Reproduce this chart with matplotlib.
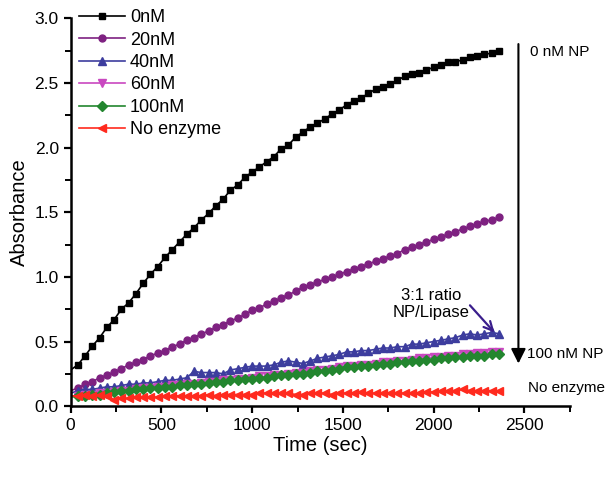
import matplotlib
matplotlib.use("Agg")
import matplotlib.pyplot as plt
from matplotlib.ticker import MultipleLocator

plt.rcParams['font.family'] = ['Liberation Sans', 'DejaVu Sans']

# time points (sec), one reading every 40 s
time_sec = list(range(0, 2400, 40))

abs_0nM = [0.28, 0.32, 0.39, 0.465, 0.53, 0.61, 0.67, 0.75, 0.80, 0.87,
           0.95, 1.02, 1.08, 1.15, 1.21, 1.27, 1.33, 1.38, 1.44, 1.49,
           1.55, 1.60, 1.67, 1.71, 1.77, 1.81, 1.85, 1.89, 1.93, 1.99,
           2.02, 2.08, 2.12, 2.16, 2.19, 2.22, 2.26, 2.29, 2.33, 2.36,
           2.38, 2.42, 2.45, 2.47, 2.49, 2.52, 2.55, 2.57, 2.58, 2.60,
           2.62, 2.64, 2.66, 2.66, 2.68, 2.70, 2.71, 2.72, 2.73, 2.75]

abs_20nM = [0.12, 0.14, 0.17, 0.19, 0.22, 0.24, 0.265, 0.29, 0.32, 0.34,
            0.36, 0.39, 0.41, 0.43, 0.46, 0.48, 0.51, 0.53, 0.56, 0.58,
            0.61, 0.63, 0.66, 0.68, 0.71, 0.74, 0.76, 0.79, 0.81, 0.84,
            0.86, 0.89, 0.92, 0.94, 0.96, 0.98, 1.00, 1.02, 1.04, 1.06,
            1.08, 1.10, 1.12, 1.14, 1.16, 1.18, 1.21, 1.23, 1.25, 1.27,
            1.29, 1.31, 1.33, 1.35, 1.37, 1.39, 1.41, 1.43, 1.44, 1.46]

abs_40nM = [0.10, 0.12, 0.13, 0.13, 0.14, 0.15, 0.15, 0.16, 0.17, 0.17,
            0.18, 0.18, 0.19, 0.20, 0.20, 0.21, 0.22, 0.27, 0.26, 0.26,
            0.26, 0.25, 0.28, 0.29, 0.30, 0.31, 0.31, 0.31, 0.32, 0.34,
            0.35, 0.34, 0.33, 0.35, 0.37, 0.38, 0.39, 0.40, 0.42, 0.42,
            0.43, 0.43, 0.44, 0.45, 0.45, 0.46, 0.46, 0.48, 0.48, 0.49,
            0.50, 0.51, 0.52, 0.53, 0.55, 0.56, 0.55, 0.56, 0.57, 0.56]

abs_60nM = [0.08, 0.08, 0.09, 0.09, 0.10, 0.10, 0.11, 0.12, 0.12, 0.13,
            0.14, 0.14, 0.15, 0.15, 0.16, 0.16, 0.17, 0.17, 0.18, 0.19,
            0.19, 0.20, 0.20, 0.21, 0.21, 0.22, 0.23, 0.23, 0.24, 0.24,
            0.25, 0.26, 0.26, 0.27, 0.28, 0.28, 0.29, 0.30, 0.31, 0.31,
            0.32, 0.32, 0.33, 0.34, 0.34, 0.35, 0.35, 0.36, 0.37, 0.37,
            0.38, 0.38, 0.39, 0.39, 0.40, 0.40, 0.41, 0.41, 0.42, 0.42]

abs_100nM = [0.07, 0.08, 0.08, 0.09, 0.09, 0.10, 0.11, 0.12, 0.12, 0.13,
             0.13, 0.14, 0.14, 0.15, 0.15, 0.16, 0.16, 0.17, 0.17, 0.18,
             0.19, 0.19, 0.20, 0.20, 0.21, 0.21, 0.22, 0.22, 0.23, 0.24,
             0.24, 0.25, 0.25, 0.26, 0.27, 0.27, 0.28, 0.29, 0.30, 0.30,
             0.31, 0.31, 0.32, 0.33, 0.33, 0.34, 0.34, 0.35, 0.35, 0.36,
             0.36, 0.37, 0.37, 0.38, 0.38, 0.39, 0.39, 0.39, 0.40, 0.40]

abs_no_enzyme = [0.08, 0.08, 0.09, 0.08, 0.09, 0.08, 0.05, 0.06, 0.06, 0.07,
                 0.07, 0.07, 0.07, 0.08, 0.08, 0.08, 0.08, 0.08, 0.08, 0.09,
                 0.08, 0.09, 0.09, 0.09, 0.09, 0.09, 0.10, 0.10, 0.10, 0.10,
                 0.10, 0.09, 0.09, 0.10, 0.10, 0.10, 0.09, 0.10, 0.10, 0.10,
                 0.11, 0.10, 0.10, 0.10, 0.10, 0.10, 0.10, 0.10, 0.10, 0.11,
                 0.11, 0.12, 0.12, 0.12, 0.13, 0.12, 0.12, 0.12, 0.12, 0.12]

labels = ['0nM', '20nM', '40nM', '60nM', '100nM', 'No enzyme']
series = [abs_0nM, abs_20nM, abs_40nM, abs_60nM, abs_100nM, abs_no_enzyme]
colors = ['#000000', '#7e2181', '#3d3d9e', '#c948c0', '#23862f', '#ff2a1e']
markers = ['s', 'o', '^', 'v', 'D', '<']
sizes = [4.8, 5.0, 5.8, 5.8, 4.8, 5.8]

fig = plt.figure(figsize=(6.14, 4.79), dpi=100)
ax = fig.add_axes([0.115, 0.152, 0.813, 0.810])

for y, lab, c, m, s in zip(series, labels, colors, markers, sizes):
    ax.plot(time_sec, y, color=c, marker=m, markersize=s, lw=1.2,
            label=lab, markevery=slice(1, None))

ax.set_xlim(0, 2750)
ax.set_ylim(0, 3.0)
ax.xaxis.set_major_locator(MultipleLocator(500))
ax.xaxis.set_minor_locator(MultipleLocator(250))
ax.yaxis.set_major_locator(MultipleLocator(0.5))
ax.yaxis.set_minor_locator(MultipleLocator(0.25))
ax.yaxis.set_major_formatter(plt.FormatStrFormatter('%.1f'))

for s in ['top', 'right']:
    ax.spines[s].set_visible(False)
for s in ['left', 'bottom']:
    ax.spines[s].set_linewidth(1.8)
ax.tick_params(which='major', direction='out', length=5, width=1.6, labelsize=12.5)
ax.tick_params(which='minor', direction='out', length=4, width=1.4)

ax.set_xlabel('Time (sec)', fontsize=14.5, labelpad=2)
ax.set_ylabel('Absorbance', fontsize=14.5, labelpad=4)

ax.legend(loc='upper left', bbox_to_anchor=(-0.015, 1.065), frameon=False,
          fontsize=13, handlelength=2.5, handletextpad=0.3, labelspacing=0.3)

# concentration arrow on the right
ax.annotate('', xy=(2467, 0.33), xytext=(2467, 2.8),
            arrowprops=dict(arrowstyle='-|>', color='black', lw=1.5,
                            mutation_scale=22, shrinkA=0, shrinkB=0),
            annotation_clip=False)
ax.text(2530, 2.74, '0 nM NP', fontsize=11, va='center', ha='left')
ax.text(2515, 0.40, '100 nM NP', fontsize=11, va='center', ha='left')
ax.text(2520, 0.14, 'No enzyme', fontsize=11, va='center', ha='left')

# ratio callout
ax.text(1985, 0.79, '3:1 ratio\nNP/Lipase', fontsize=12, ha='center',
        va='center', linespacing=1.1)
ax.annotate('', xy=(2335, 0.57), xytext=(2200, 0.78),
            arrowprops=dict(arrowstyle='->', color='#3a1e8c', lw=1.6,
                            mutation_scale=16, shrinkA=0, shrinkB=0))

fig.savefig('out.png', dpi=100)
